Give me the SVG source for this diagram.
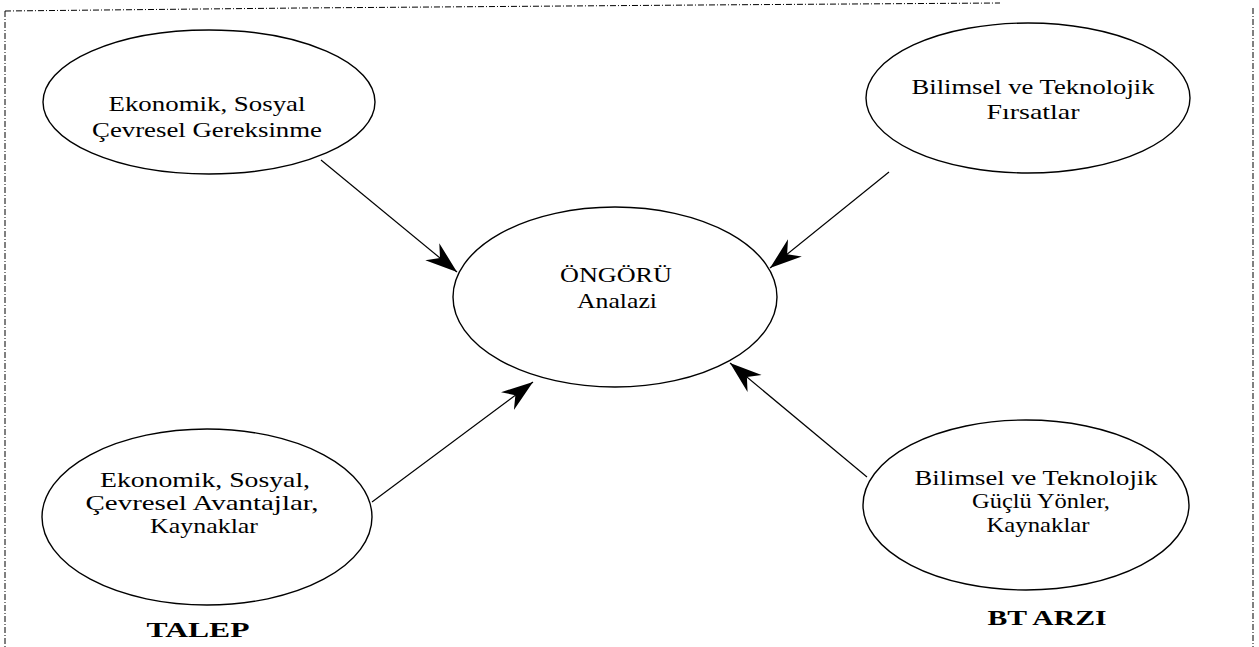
<svg xmlns="http://www.w3.org/2000/svg" width="1259" height="647" viewBox="0 0 1259 647">
<style>
.bg{fill:#fff}
.ell{fill:#fff;stroke:#000;stroke-width:1.4}
.t{font-family:"Liberation Serif","Times New Roman",serif;font-size:22px;fill:#000;text-anchor:middle}
.b{font-family:"Liberation Serif","Times New Roman",serif;font-size:22px;font-weight:bold;fill:#000;text-anchor:middle}
.con{stroke:#000;stroke-width:1.2;fill:none;marker-end:url(#ah)}
.frame{stroke:#000;stroke-width:1;fill:none;stroke-dasharray:6 2 1 2}
</style>
<defs>
<marker id="ah" markerUnits="userSpaceOnUse" markerWidth="40" markerHeight="30" refX="32" refY="11" orient="auto">
<path d="M32,11 L0,0 L10,11 L0,22 Z" fill="#000"/>
</marker>
</defs>
<rect class="bg" width="1259" height="647"/>
<g id="frame">
<path class="frame" d="M5,11 L300,8 L700,5 L1000,3"/>
<path class="frame" d="M5,11 L5,647"/>
<path class="frame" d="M1253,8 L1253,647"/>
</g>
<g id="connectors">
<line class="con" x1="321" y1="160" x2="457" y2="272"/>
<line class="con" x1="889" y1="172" x2="770" y2="268"/>
<line class="con" x1="372" y1="502" x2="533" y2="382"/>
<line class="con" x1="867" y1="477" x2="730" y2="363"/>
</g>
<g id="node-tl">
<ellipse class="ell" cx="209" cy="102" rx="166" ry="72"/>
<text class="t" x="207" y="111" textLength="197" lengthAdjust="spacingAndGlyphs">Ekonomik, Sosyal</text>
<text class="t" x="207" y="137" textLength="230" lengthAdjust="spacingAndGlyphs">Çevresel Gereksinme</text>
</g>
<g id="node-tr">
<ellipse class="ell" cx="1028" cy="98" rx="162" ry="75"/>
<text class="t" x="1033" y="94" textLength="243" lengthAdjust="spacingAndGlyphs">Bilimsel ve Teknolojik</text>
<text class="t" x="1033" y="119" textLength="93" lengthAdjust="spacingAndGlyphs">Fırsatlar</text>
</g>
<g id="node-center">
<ellipse class="ell" cx="615" cy="297" rx="162" ry="90"/>
<text class="t" x="616" y="282" textLength="112" lengthAdjust="spacingAndGlyphs">ÖNGÖRÜ</text>
<text class="t" x="617" y="308" textLength="80" lengthAdjust="spacingAndGlyphs">Analazi</text>
</g>
<g id="node-bl">
<ellipse class="ell" cx="207" cy="517" rx="165" ry="88"/>
<text class="t" x="205" y="487" textLength="210" lengthAdjust="spacingAndGlyphs">Ekonomik, Sosyal,</text>
<text class="t" x="202" y="510" textLength="233" lengthAdjust="spacingAndGlyphs">Çevresel Avantajlar,</text>
<text class="t" x="204" y="533" textLength="108" lengthAdjust="spacingAndGlyphs">Kaynaklar</text>
</g>
<g id="node-br">
<ellipse class="ell" cx="1026" cy="505" rx="163" ry="85"/>
<text class="t" x="1036" y="485" textLength="243" lengthAdjust="spacingAndGlyphs">Bilimsel ve Teknolojik</text>
<text class="t" x="1041" y="508" textLength="138" lengthAdjust="spacingAndGlyphs">Güçlü Yönler,</text>
<text class="t" x="1038" y="532" textLength="103" lengthAdjust="spacingAndGlyphs">Kaynaklar</text>
</g>
<g id="label-talep">
<text class="b" x="198" y="637" textLength="103" lengthAdjust="spacingAndGlyphs">TALEP</text>
</g>
<g id="label-btarzi">
<text class="b" x="1047" y="625" textLength="119" lengthAdjust="spacingAndGlyphs">BT ARZI</text>
</g>
</svg>
